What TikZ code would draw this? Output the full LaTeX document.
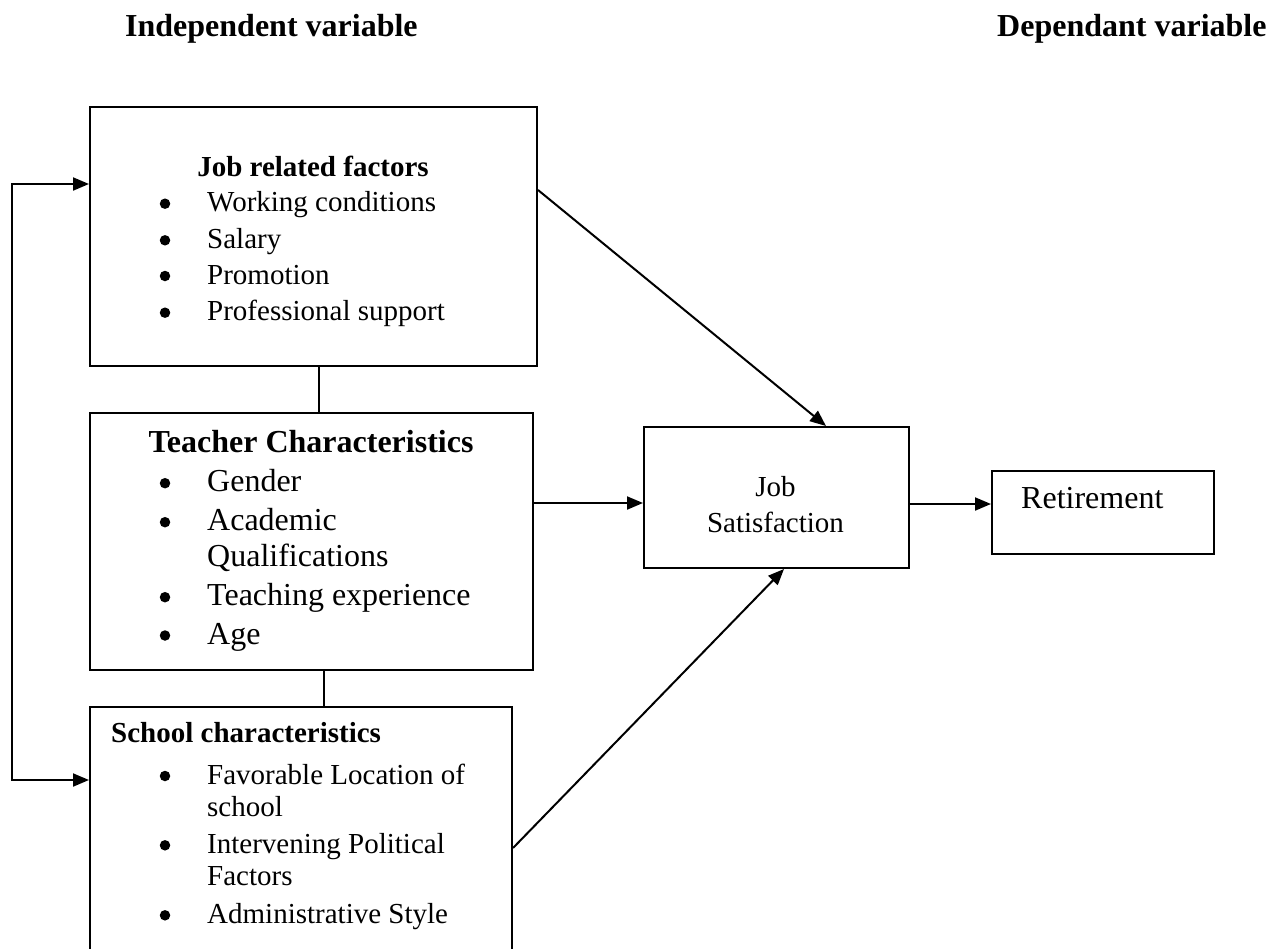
\documentclass[tikz,border=0pt]{standalone}
\usepackage{fontspec}
\setmainfont{Liberation Serif}
\usetikzlibrary{arrows.meta}
\begin{document}
\begin{tikzpicture}[x=1pt,y=1pt,
  box/.style={draw,line width=2pt,anchor=north west,inner sep=0,rectangle},
  conn/.style={line width=2pt},
  arr/.style={line width=2pt,-{Triangle[length=16pt,width=13pt]}},
  arrboth/.style={line width=2pt,{Triangle[length=16pt,width=13pt]}-{Triangle[length=16pt,width=13pt]}},
  small/.style={font=\fontsize{29}{36}\selectfont,inner sep=0,anchor=base west},
  big/.style={font=\fontsize{32}{38}\selectfont,inner sep=0,anchor=base west},
  smalltitle/.style={font=\fontsize{29}{36}\selectfont\bfseries,inner sep=0,anchor=base},
  bigtitle/.style={font=\fontsize{32}{38}\selectfont\bfseries,inner sep=0,anchor=base},
  bul/.style={circle,fill,inner sep=0,minimum size=10.5pt}]
\useasboundingbox (0,0) rectangle (1269,-948);
\clip (0,0) rectangle (1269,-948);

% headers
\node[bigtitle,anchor=base west] (hind) at (125,-36) {Independent variable};
\node[bigtitle,anchor=base west] (hdep) at (997,-36) {Dependant variable};

% boxes
\node[box,minimum width=447pt,minimum height=259pt] (job) at (89,-106) {};
\node[box,minimum width=443pt,minimum height=257pt] (teacher) at (89,-412) {};
\node[box,minimum width=422pt,minimum height=254pt] (school) at (89,-706) {};
\node[box,minimum width=265pt,minimum height=141pt] (sat) at (643,-426) {};
\node[box,minimum width=222pt,minimum height=83pt] (ret) at (991,-470) {};

% job related factors
\node[smalltitle] (jt) at (313,-176.7) {Job related factors};
\node[bul] (jb1) at (165,-203.7) {};
\node[small] (j1) at (207,-211.7) {Working conditions};
\node[bul] (jb2) at (165,-240.3) {};
\node[small] (j2) at (207,-248.3) {Salary};
\node[bul] (jb3) at (165,-276) {};
\node[small] (j3) at (207,-284) {Promotion};
\node[bul] (jb4) at (165,-312.7) {};
\node[small] (j4) at (207,-320.7) {Professional support};

% teacher characteristics
\node[bigtitle] (tt) at (311,-452.7) {Teacher Characteristics};
\node[bul] (tb1) at (165,-483.2) {};
\node[big] (t1) at (207,-491.7) {Gender};
\node[bul] (tb2) at (165,-522.2) {};
\node[big] (t2) at (207,-530.7) {Academic};
\node[big] (t2b) at (207,-566) {Qualifications};
\node[bul] (tb3) at (165,-597.2) {};
\node[big] (t3) at (207,-605.7) {Teaching experience};
\node[bul] (tb4) at (165,-635.5) {};
\node[big] (t4) at (207,-644) {Age};

% school characteristics
\node[smalltitle,anchor=base west] (st) at (111,-742.7) {School characteristics};
\node[bul] (sb1) at (165,-776) {};
\node[small] (s1) at (207,-784) {Favorable Location of};
\node[small] (s1b) at (207,-816.7) {school};
\node[bul] (sb2) at (165,-845.3) {};
\node[small] (s2) at (207,-853.3) {Intervening Political};
\node[small] (s2b) at (207,-885) {Factors};
\node[bul] (sb3) at (165,-915.3) {};
\node[small] (s3) at (207,-923.3) {Administrative Style};

% job satisfaction & retirement
\node[font=\fontsize{29}{36}\selectfont,inner sep=0,anchor=base] (sj) at (775.5,-496.7) {Job};
\node[font=\fontsize{29}{36}\selectfont,inner sep=0,anchor=base] (ss) at (775.5,-532.3) {Satisfaction};
\node[big] (rt) at (1021,-508.3) {Retirement};

% connectors
\coordinate (lx) at (12,0);
\coordinate (l1) at ([yshift=-78pt]job.north west);
\coordinate (l2) at ([yshift=-74pt]school.north west);
\draw[arrboth] (l1) -- (l1 -| lx) -- (l2 -| lx) -- (l2);
\draw[arr] ([yshift=-84pt]job.north east) -- ([xshift=49.5pt]sat.north);
\draw[arr] ([yshift=38.5pt]teacher.east) coordinate (ta) -- (ta -| sat.west);
\draw[arr] ([yshift=-142pt]school.north east) -- ([xshift=7.5pt]sat.south);
\draw[arr] ([yshift=-6.5pt]sat.east) coordinate (sa) -- (sa -| ret.west);
\draw[conn] ([xshift=5.5pt]job.south) coordinate (jc) -- (jc |- teacher.north);
\draw[conn] ([xshift=12.5pt]teacher.south) coordinate (tc) -- (tc |- school.north);
\end{tikzpicture}
\end{document}
